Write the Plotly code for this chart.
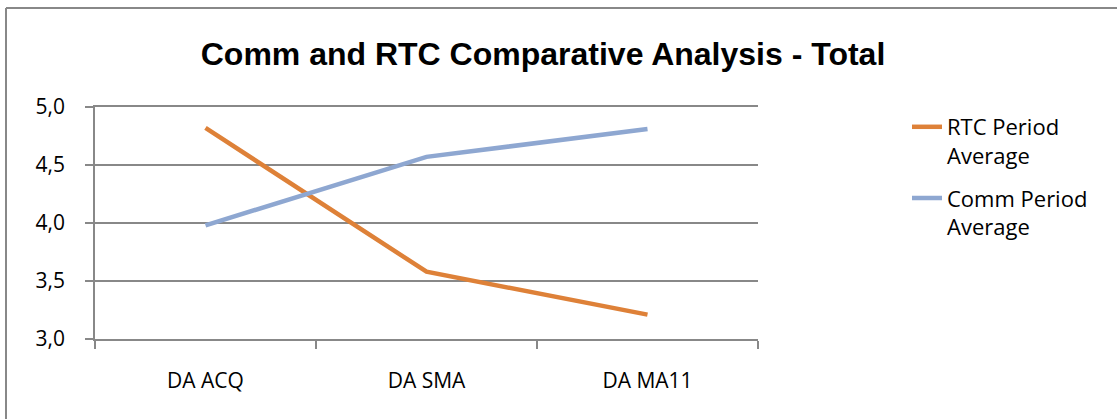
import plotly.graph_objects as go

categories = ["DA ACQ", "DA SMA", "DA MA11"]
rtc_values = [4.82, 3.58, 3.21]
comm_values = [3.98, 4.57, 4.81]
series_names = ["RTC Period<br>Average", "Comm Period<br>Average"]
y_ticks = [3.0, 3.5, 4.0, 4.5, 5.0]

W, H = 1117, 419
L, R, T, B = 95, 359, 107, 80
pw, ph = W - L - R, H - T - B

def px_x(x):
    return (x - L) / pw

def px_y(y):
    return (H - B - y) / ph

fig = go.Figure()
fig.add_trace(go.Scatter(x=categories, y=rtc_values, mode="lines", name=series_names[0],
                         legendgroup="rtc", line=dict(color="#DE8138", width=4.5)))
fig.add_trace(go.Scatter(x=categories, y=comm_values, mode="lines", name=series_names[1],
                         legendgroup="comm", line=dict(color="#8EA7D1", width=4.5)))

font_fam = "Open Sans, Liberation Sans, sans-serif"
grid_c = "#888888"
fig.update_layout(
    width=W, height=H,
    margin=dict(l=L, r=R, t=T, b=B),
    paper_bgcolor="white", plot_bgcolor="white",
    separators=",.",
    title=dict(text="<b>Comm and RTC Comparative Analysis - Total</b>",
               x=px_x(543), xref="paper", xanchor="center",
               y=1 - 54 / H, yref="container", yanchor="middle",
               font=dict(family="Liberation Sans, sans-serif", size=32, color="black")),
    xaxis=dict(range=[-0.5, 2.5], showgrid=False, showline=True, linecolor=grid_c, linewidth=1.5,
               mirror=True,
               ticks="outside", tickson="boundaries", ticklen=8, tickcolor=grid_c, tickwidth=1.5,
               ticklabelstandoff=22,
               tickfont=dict(family=font_fam, size=21, color="black"), zeroline=False),
    yaxis=dict(range=[3.0, 5.0], tickvals=y_ticks, tickformat=".1f", showgrid=True,
               gridcolor=grid_c, gridwidth=1.5, showline=True, linecolor=grid_c, linewidth=1.5,
               ticks="outside", ticklen=8, tickcolor=grid_c, tickwidth=1.5,
               ticklabelstandoff=16,
               tickfont=dict(family=font_fam, size=21, color="black"), zeroline=False),
    legend=dict(x=px_x(907), xanchor="left", y=px_y(106), yanchor="top",
                font=dict(family=font_fam, size=22, color="black"),
                valign="top", tracegroupgap=11, bgcolor="rgba(0,0,0,0)"),
    showlegend=True,
)

fig.add_shape(type="line", xref="paper", yref="paper",
              x0=px_x(6), x1=px_x(6), y0=px_y(8), y1=px_y(H + 5),
              line=dict(color=grid_c, width=2))
fig.add_shape(type="line", xref="paper", yref="paper",
              x0=px_x(6), x1=px_x(W + 5), y0=px_y(8), y1=px_y(8),
              line=dict(color=grid_c, width=2))

fig.write_html("out.html", config={"displayModeBar": False},
               post_script="document.body.style.margin='0';document.body.style.overflow='hidden';")
